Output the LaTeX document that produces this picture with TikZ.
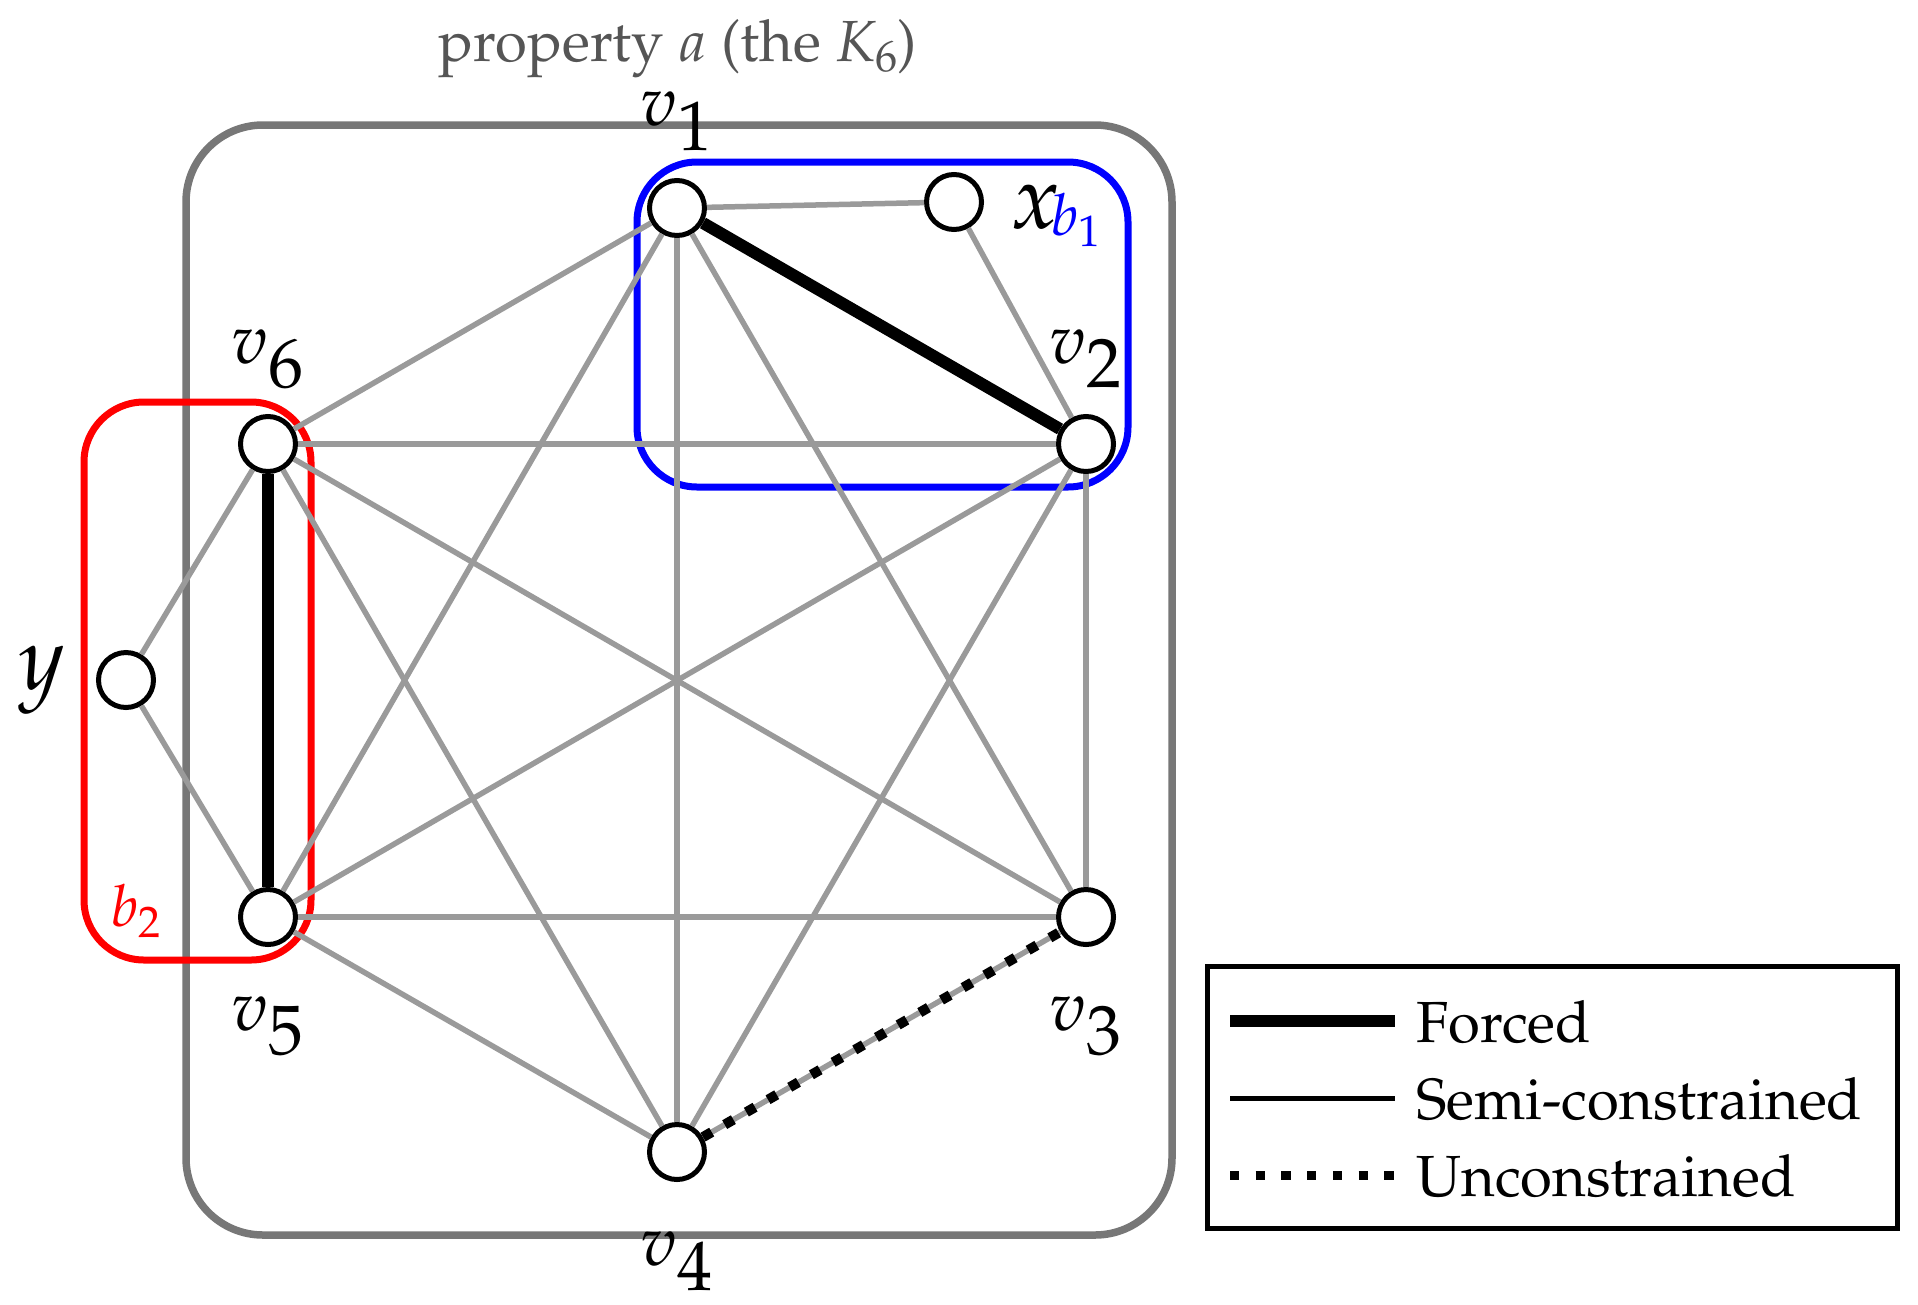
\documentclass[tikz,border=0pt]{standalone}
\usepackage[T1]{fontenc}
\usepackage{mathpazo}
\definecolor{edgegray}{HTML}{9A9A9A}
\definecolor{boxgray}{HTML}{777777}
\definecolor{txtgray}{HTML}{555555}
\definecolor{bblue}{HTML}{0000FF}
\definecolor{rred}{HTML}{FF0000}
\begin{document}
\begin{tikzpicture}[x=1pt,y=-1pt,
  vtx/.style={circle,draw=black,line width=5pt,fill=white,minimum size=55pt,inner sep=0pt},
  semi/.style={draw=edgegray,line width=5.5pt},
  forced/.style={draw=black,line width=12pt},
  uncon/.style={draw=black,line width=10pt,dash pattern=on 10pt off 15pt},
  lbl/.style={font=\fontsize{70}{80}\selectfont,inner sep=0pt},
  biglbl/.style={font=\fontsize{90}{100}\selectfont,inner sep=0pt},
  boxlbl/.style={font=\fontsize{58}{66}\selectfont,inner sep=0pt},
  legtxt/.style={font=\fontsize{58}{68}\selectfont,inner sep=0pt,anchor=base west},
  ]
\useasboundingbox (0,0) rectangle (1918,1304);
% outer box
\draw[boxgray,line width=7.5pt,rounded corners=77pt] (186,125) rectangle (1172,1235);
\node[font=\fontsize{58}{68}\selectfont,text=txtgray,inner sep=0pt] (title) at (678,49) {property $a$ (the $K_6$)};
% bags
\draw[bblue,line width=7pt,rounded corners=60pt] (637,162) rectangle (1128,487);
\draw[rred,line width=7pt,rounded corners=60pt] (84,402) rectangle (311,960);
\node[boxlbl,text=bblue] (b1) at (1076,220) {$b_1$};
\node[boxlbl,text=rred] (b2) at (136,911) {$b_2$};
% vertices
\node[vtx] (v1) at (677,208) {};
\node[vtx] (x) at (954,202) {};
\node[vtx] (v2) at (1086,444) {};
\node[vtx] (v3) at (1086,917) {};
\node[vtx] (v4) at (677,1152) {};
\node[vtx] (v5) at (268,917) {};
\node[vtx] (v6) at (268,444) {};
\node[vtx] (y) at (126,680) {};
% labels
\node[lbl] (l1) at (677,121) {$v_{\textstyle 1}$};
\node[lbl] (l2) at (1086,359) {$v_{\textstyle 2}$};
\node[lbl] (l3) at (1086,1026) {$v_{\textstyle 3}$};
\node[lbl] (l4) at (677,1261) {$v_{\textstyle 4}$};
\node[lbl] (l5) at (268,1026) {$v_{\textstyle 5}$};
\node[lbl] (l6) at (268,359) {$v_{\textstyle 6}$};
\node[biglbl] (lx) at (1036,207) {$x$};
\node[biglbl] (ly) at (42,680) {$y$};
% edges
\foreach \a/\b in {v1/v3,v1/v4,v1/v5,v1/v6,v2/v3,v2/v4,v2/v5,v2/v6,v3/v5,v3/v6,v4/v5,v4/v6,v1/x,x/v2,y/v6,y/v5}
  \draw[semi] (\a) -- (\b);
\draw[forced] (v1) -- (v2);
\draw[forced] (v5) -- (v6);
\draw[semi] (v4) -- (v3);
\draw[uncon] (v4) -- (v3);
% legend
\node[draw=black,line width=5pt,minimum width=690pt,minimum height=262pt,inner sep=0pt] (leg) at (1552,1097) {};
\coordinate (fa) at (1230,1021); \coordinate (fb) at (1395,1021);
\coordinate (sa) at (1230,1098); \coordinate (sb) at (1395,1098);
\coordinate (ua) at (1230,1175); \coordinate (ub) at (1395,1175);
\draw[black,line width=12pt] (fa) -- (fb);
\draw[black,line width=5pt] (sa) -- (sb);
\draw[black,line width=9pt,dash pattern=on 9.3pt off 16.4pt] (ua) -- (ub);
\node[legtxt] (tf) at (1416,1042) {Forced};
\node[legtxt] (ts) at (1416,1119) {Semi-constrained};
\node[legtxt] (tu) at (1416,1196) {Unconstrained};
\end{tikzpicture}
\end{document}
